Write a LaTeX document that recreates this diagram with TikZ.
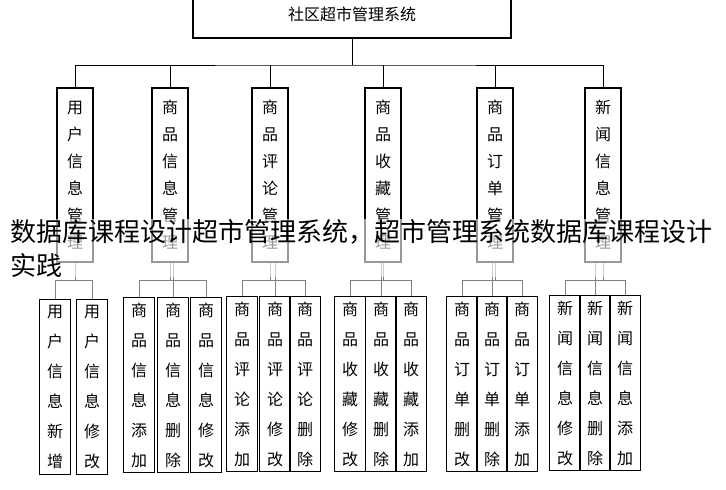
\documentclass[tikz,border=0pt]{standalone}
\usepackage{fontspec}
\setmainfont{Noto Sans CJK SC}
\usetikzlibrary{positioning}

\begin{document}
\begin{tikzpicture}[x=1pt, y=-1pt,
        top/.style={rectangle, draw=black, line width=1.2pt, minimum width=318pt, minimum height=48pt, font=\fontsize{16}{18}\selectfont},
        mid/.style={rectangle, draw=black, line width=1.2pt, minimum width=36pt, minimum height=174pt, text width=16pt, align=center, font=\fontsize{16}{27}\selectfont},
        leaf/.style={rectangle, draw=black, line width=1.2pt, minimum width=31pt, minimum height=175pt, text width=16pt, align=center, font=\fontsize{16}{30}\selectfont},
        link/.style={draw=black, line width=1pt},
        sublink/.style={draw=gray, line width=1pt}
    ]
        \useasboundingbox (0,0) rectangle (726,490);
        % Root
        \node[top] (root) at (352,14) {社区超市管理系统};
        % Modules
        \node[mid] (m1) at (75,175) {用\\户\\信\\息\\管\\理};
        \node[mid] (m2) at (170,175) {商\\品\\信\\息\\管\\理};
        \node[mid] (m3) at (270,175) {商\\品\\评\\论\\管\\理};
        \node[mid] (m4) at (383,175) {商\\品\\收\\藏\\管\\理};
        \node[mid] (m5) at (495,175) {商\\品\\订\\单\\管\\理};
        \node[mid] (m6) at (603,175) {新\\闻\\信\\息\\管\\理};
        % Functions
        \node[leaf] (a1) at (55,387) {用\\户\\信\\息\\新\\增};
        \node[leaf] (a2) at (92,387) {用\\户\\信\\息\\修\\改};
        \node[leaf] (b1) at (139,385) {商\\品\\信\\息\\添\\加};
        \node[leaf] (b2) at (173,385) {商\\品\\信\\息\\删\\除};
        \node[leaf] (b3) at (206,385) {商\\品\\信\\息\\修\\改};
        \node[leaf] (c1) at (242,384) {商\\品\\评\\论\\添\\加};
        \node[leaf] (c2) at (275,384) {商\\品\\评\\论\\修\\改};
        \node[leaf] (c3) at (305,384) {商\\品\\评\\论\\删\\除};
        \node[leaf] (d1) at (350,384) {商\\品\\收\\藏\\修\\改};
        \node[leaf] (d2) at (381,384) {商\\品\\收\\藏\\删\\除};
        \node[leaf] (d3) at (411,384) {商\\品\\收\\藏\\添\\加};
        \node[leaf] (e1) at (462,384) {商\\品\\订\\单\\删\\改};
        \node[leaf] (e2) at (492,384) {商\\品\\订\\单\\删\\除};
        \node[leaf] (e3) at (522,384) {商\\品\\订\\单\\添\\加};
        \node[leaf] (f1) at (565,383) {新\\闻\\信\\息\\修\\改};
        \node[leaf] (f2) at (595,383) {新\\闻\\信\\息\\删\\除};
        \node[leaf] (f3) at (625,383) {新\\闻\\信\\息\\添\\加};

        % Root to modules
        \coordinate (bus) at (352,65);
        \draw[link] (root.south) -- (bus);
        \draw[link] (m1.north) |- (bus) -| (m6.north);
        \foreach \m in {m2,m3,m4,m5}
            \draw[link] (\m.north) -- (\m.north |- bus);

        % Modules to functions
        \foreach \m/\l/\r in {m1/a1/a2, m2/b1/b3, m3/c1/c3, m4/d1/d3, m5/e1/e3, m6/f1/f3}{
            \draw[sublink] (\m.south) -- ++(0,18) coordinate (j);
            \draw[sublink] (\l.north) |- (j) -| (\r.north);
        }
        \foreach \m/\f in {m2/b2, m3/c2, m4/d2, m5/e2, m6/f2}
            \draw[sublink] (\f.north) -- (\f.north |- \m.south);

        % Overlaid caption
        \node[fill=white, fill opacity=0.6, text opacity=1, anchor=north west, text width=712pt, inner sep=0pt,
              align=left, font=\fontsize{26}{34}\selectfont] (title) at (10,219)
            {数据库课程设计超市管理系统，超市管理系统数据库课程设计\\实践};
    \end{tikzpicture}
\end{document}
